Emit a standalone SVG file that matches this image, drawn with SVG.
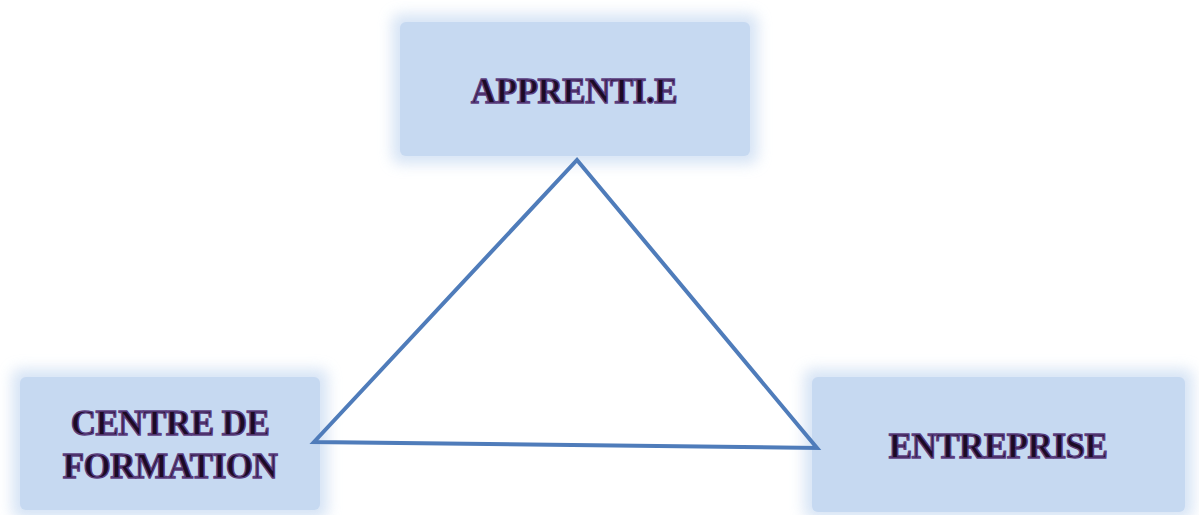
<svg xmlns="http://www.w3.org/2000/svg" width="1199" height="515" viewBox="0 0 1199 515">
<style>
.box{fill:#c6d9f1;}
.glow{fill:#c6d9f1;opacity:0.7;filter:url(#blur);}
.lbl{font-family:"Liberation Serif","DejaVu Serif",serif;font-weight:bold;font-size:35px;fill:#1c0b24;stroke:#5a3d7e;stroke-width:1.4;text-anchor:middle;letter-spacing:-0.5px;}
.edge{fill:none;stroke:#4f7cba;stroke-width:4;stroke-linejoin:miter;}
</style>
<defs>
<filter id="blur" x="-20%" y="-20%" width="140%" height="140%"><feGaussianBlur stdDeviation="7"/></filter>
</defs>
<rect width="1199" height="515" fill="#ffffff"/>
<g id="apprentie">
<rect class="glow" x="392" y="14" width="366" height="150" rx="8"/>
<rect class="box" x="400" y="22" width="350" height="134" rx="6"/>
<text class="lbl" x="574" y="103">APPRENTI.E</text>
</g>
<g id="centre">
<rect class="glow" x="12" y="369" width="316" height="150" rx="8"/>
<rect class="box" x="20" y="377" width="300" height="133" rx="6"/>
<text class="lbl" x="170" y="435">CENTRE DE</text>
<text class="lbl" x="170" y="478">FORMATION</text>
</g>
<g id="entreprise">
<rect class="glow" x="804" y="369" width="389" height="150" rx="8"/>
<rect class="box" x="812" y="377" width="373" height="135" rx="6"/>
<text class="lbl" x="998" y="458">ENTREPRISE</text>
</g>
<g id="connectors">
<path class="edge" d="M577,160 L817,448 L314,442 Z"/>
</g>
</svg>
